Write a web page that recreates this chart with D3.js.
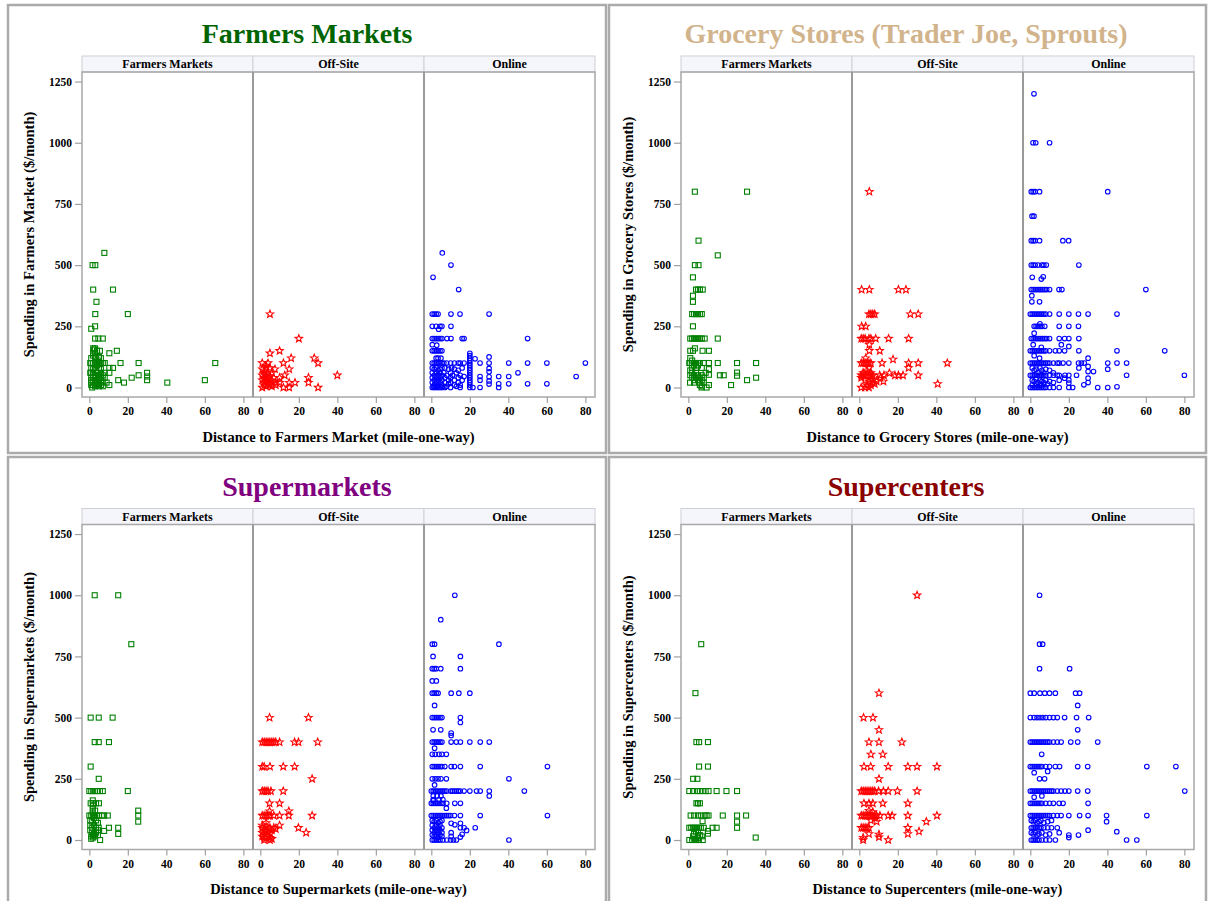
<!DOCTYPE html>
<html>
<head>
<meta charset="utf-8">
<script src="https://cdnjs.cloudflare.com/ajax/libs/d3/7.8.5/d3.min.js"></script>
<style>
  body { margin: 0; background: #fff; }
  svg { display: block; }
  text { font-family: "Liberation Serif", "Times New Roman", serif; font-weight: bold; }
</style>
</head>
<body>
<svg id="chart" width="1210" height="901"></svg>
<script>
// Facet columns shared by every panel (purchase channel)
const facets = ["Farmers Markets", "Off-Site", "Online"];
const xTicks = [0, 20, 40, 60, 80];
const yTicks = [0, 250, 500, 750, 1000, 1250];

const panelTitles = ["Farmers Markets", "Grocery Stores (Trader Joe, Sprouts)", "Supermarkets", "Supercenters"];
const titleColors = ["#006400", "#d2b48c", "#800080", "#8b0000"];
const yTitles = ["Spending in Farmers Market ($/month)", "Spending in Grocery Stores ($/month)",
                 "Spending in Supermarkets ($/month)", "Spending in Supercenters ($/month)"];
const xTitles = ["Distance to Farmers Market (mile-one-way)", "Distance to Grocery Stores (mile-one-way)",
                 "Distance to Supermarkets (mile-one-way)", "Distance to Supercenters (mile-one-way)"];

// [distance (miles), spending ($/month)]
// ---- Farmers Markets spending ----
const fmFarmers = [[7.8,550],[1.7,500],[3.1,500],[2,400],[12.3,400],[3.7,350],[3.1,300],[20,300],[1,240],[3,250],[3,200],[4.7,200],[7,200],
  [2,160],[3,160],[4,150],[5.5,150],[2.5,155],[10.4,140],[14.3,150],[16.2,100],[25.6,100],[65.4,100],[10.4,80],[12.3,80],[10.4,60],
  [30,60],[30,45],[30,30],[25.6,50],[22,40],[15,30],[18,20],[40.5,20],[60,30],[10.4,10],[1.5,0],
  [0.5,100],[1,100],[2,100],[3,100],[4,100],[5,100],[6,100],[7,100],[8,100],[1,120],[2,130],[3,125],[5,125],[6,120],[2,140],[3,140],
  [5,110],[1,80],[2,75],[3,80],[4,90],[5,80],[6,75],[0.5,60],[1,60],[2,60],[3,50],[4,60],[5,50],[6,60],[7,50],[1,40],[2,40],[3,40],
  [4,30],[5,35],[6,40],[8,40],[1,20],[2,25],[3,20],[4,20],[5,15],[6,20],[7,25],[1,10],[2,10],[3,5],[4,10],[5,5],[6,10],[7,5],[9,20],
  [8,60],[2,50],[1,30]];
const fmOffsite = [[5,300],[20,200],[5,140],[10,150],[16,120],[28,120],[30,100],[12,100],[1,75],[3,90],[7.6,75],[15,75],[40,50],[25,40],
  [25,20],[30,0],[18,20],[15,20],[12.7,50],[10,40],[12,0],[15,0],[1,0],[2,10],[3,5],[4,20],[5,15],[1,30],[2,40],[3,50],[4,60],[5,45],
  [6,30],[2,70],[3,80],[4,100],[1,100],[5,80],[6,60],[7,40],[8,20],[3,25],[2,20],[4,40],[5,10],[6,5],[3,35],[1,50],[2,55],[10,20],[8,10]];
const fmOnline = [[5.7,550],[10.2,500],[0.9,450],[14.2,400],[0.5,300],[1.5,300],[2.5,300],[3.5,300],[10.2,300],[14.9,300],[30,300],
  [0.5,250],[2.5,250],[4.5,250],[5.5,250],[10.2,250],[3.8,238],[0.5,200],[1.5,200],[2.5,200],[3.5,200],[4.5,200],[5.5,200],[8.1,200],
  [10.2,200],[16,200],[17,200],[50,200],[0.5,175],[2.8,173],[0.5,150],[1.5,150],[2.5,150],[3.5,150],[4.5,150],[5.5,150],
  [20,140],[20,130],[20,120],[20,110],[20,100],[20,90],[20,80],[20,70],[20,60],[20,50],[20,40],[20,30],[20,20],[20,10],[20,0],
  [2.5,120],[3.5,120],[5,120],[22.7,117],[30,125],[0.5,100],[1.5,100],[2.5,100],[3.5,100],[4.5,100],[5.5,100],[6.5,100],[8,100],
  [10,100],[12,100],[14,100],[15,100],[17,100],[25.3,100],[30,100],[40.2,100],[50,100],[60,100],[80,100],[30,78],[30,64],[30,44],
  [30,27],[30,14],[45,60],[35,45],[40.2,45],[75.2,45],[25.3,45],[25.3,30],[35,15],[40.2,15],[50,15],[60,15],[35,0],[25.3,0],[21.6,0],
  [0.5,80],[1.5,75],[2.5,80],[3.5,70],[4.5,75],[5.5,80],[7,80],[9,75],[10.5,80],[12,75],[14,70],[16,80],[0.5,60],[1.5,50],[2.5,60],
  [3.5,50],[4.5,60],[5.5,50],[6.5,60],[8,50],[10,60],[11,50],[13,60],[15,50],[17,45],[0.5,40],[1.5,30],[2.5,40],[3.5,30],[4.5,40],
  [5.5,30],[7,40],[9,30],[10,40],[12,30],[14,40],[16,30],[0.5,20],[1.5,10],[2.5,20],[3.5,10],[4.5,20],[5.5,10],[7,20],[9,15],[10,20],
  [12,10],[14,20],[15,10],[0.5,0],[1.5,0],[2.5,0],[3.5,0],[4.5,0],[5.5,0],[7,0],[10,0],[15,0],[1,5],[3,5],[6,5],[8,5],[13,5]];

// ---- Grocery Stores spending ----
const gsFarmers = [[3.4,800],[30.5,800],[5.3,600],[15.3,540],[3.4,500],[5.3,500],[2.4,450],[4,400],[5,400],[6,400],[7.5,400],[2.4,375],
  [2.4,350],[2,300],[3,300],[4,300],[5,300],[6,300],[7,300],[2.4,250],[1,200],[2,200],[3,200],[4,200],[5,200],[6,200],[7,200],[8.5,200],
  [15.3,200],[3.4,160],[1,150],[2.4,150],[7.4,150],[10.7,150],[0.5,100],[1,100],[2,100],[3,100],[4,100],[5,100],[6,100],[8,100],
  [10.7,100],[15.3,100],[25.3,100],[35.2,100],[10.7,75],[10.7,52],[25.3,61],[25.3,48],[16.4,50],[18.4,50],[35.2,40],[30.5,30],
  [22.2,10],[10.7,10],[6.9,0],[9.5,0],[0.9,20],[1,120],[2,110],[3,90],[4,80],[5,90],[1,70],[2,60],[3,50],[4,60],[5,50],[6,40],[7,50],
  [8,40],[1,50],[2,40],[3,30],[4,40],[5,30],[6,20],[7,30],[8,20],[3,20],[2,80],[7,80],[9,60],[6,10],[7,5]];
const gsOffsite = [[5.2,800],[1.2,400],[5.2,400],[20.3,400],[24.2,400],[5,300],[6,300],[7,300],[8,300],[26.5,300],[30.6,300],[1.2,250],
  [3.3,250],[1,200],[2,200],[3,200],[5,200],[6,200],[8.5,200],[15.2,200],[25.6,200],[5.2,175],[5.2,150],[10.6,150],[3.3,120],[17.5,115],
  [1,100],[2,100],[3,100],[4,100],[5,100],[6,100],[11.8,100],[25.6,100],[25.6,80],[30.6,100],[45.7,100],[1,50],[2,50],[3,50],[5,50],
  [6,50],[7,50],[10.6,50],[12.8,50],[15.6,59],[18.5,50],[20.3,50],[22.7,50],[30.6,50],[3,30],[5,25],[6,35],[7,20],[8,15],[9,25],[4,10],
  [6,10],[12.5,25],[1,0],[3,0],[5,0],[40.7,15],[2,60],[4,70],[5,80],[1,40],[6,60],[7,30],[11,40]];
const gsOnline = [[1.9,1200],[1.4,1000],[2.8,1000],[10,1000],[0.5,800],[1.5,800],[2.5,800],[4.8,800],[40.2,800],[0.9,700],[1.9,700],
  [0.5,600],[1.5,600],[2.5,600],[4.8,600],[16.9,600],[19.9,600],[0.5,500],[1.5,500],[2.5,500],[4,500],[6,500],[7,500],[8.3,500],
  [25.2,500],[1,450],[5.7,443],[6.7,452],[0.5,400],[1.5,400],[2.5,400],[3.5,400],[4.5,400],[5.5,400],[6.5,400],[7.5,400],[8.5,400],
  [10,400],[14.9,400],[16.4,400],[60,400],[0.8,375],[0.8,350],[4.8,350],
  [0,300],[1,300],[2,300],[3,300],[4,300],[5,300],[6,300],[7,300],[8,300],[10,300],[15,300],[20,300],[25,300],[30,300],[45,300],
  [2,250],[3,250],[4,250],[5,250],[6,250],[7.5,250],[15,250],[20,250],[25,250],[5,260],[2,222],
  [0.5,200],[1.5,200],[2.5,200],[3.5,200],[4.5,200],[5.5,200],[6.5,200],[7.5,200],[8.5,200],[10,200],[15,200],[17.8,200],[20,200],[25.2,200],
  [1.5,175],[16.1,175],[20,168],[5.7,164],
  [0,150],[1,150],[2,150],[3,150],[4,150],[5,150],[6,150],[7,150],[8,150],[10,150],[13,150],[15,150],[17.8,150],[25.2,150],[45,150],[69.8,150],
  [2,130],[4.8,120],[30,120],
  [0,100],[1,100],[2,100],[3,100],[4,100],[5,100],[6,100],[7,100],[8,100],[9,100],[10,100],[12,100],[14,100],[15,100],[17,100],[20,100],
  [25,100],[26.5,100],[28,100],[40.2,100],[45,100],[50,100],
  [25.2,80],[32.8,65],[40.2,75],[30,86],[30,65],[30,38],[30,20],
  [0,50],[1,50],[2,50],[3,50],[4,50],[5,50],[6,50],[7,50],[8,50],[10,50],[12,50],[14,50],[15,50],[18,50],[20,50],[24,50],[50,50],[80,50],
  [17.8,38],[20,31],[27.8,11],[20,18],
  [1,80],[2,70],[3,75],[4,60],[5,80],[6,70],[7,60],[8,75],[10,70],[12,60],[1,30],[2,25],[3,35],[4,20],[5,30],[6,25],[7,20],[8,30],[10,25],
  [12,20],[15,30],[1,10],[3,15],[5,10],[7,12],[9,15],
  [0,0],[1,0],[2,0],[3,0],[4,0],[5,0],[6,0],[7,0],[8,0],[10,0],[12,0],[15,0],[20,0],[22,0],[35,0],[40.2,0],[45,3]];

// ---- Supermarkets spending ----
const smFarmers = [[2.8,1000],[15,1000],[21.8,800],[0.7,500],[4.9,500],[12.1,500],[2.8,400],[4.9,400],[10.2,400],[0.7,300],[4.9,250],
  [20,200],[0,200],[1,200],[2,200],[3,200],[4,200],[5.5,200],[7,200],[0.7,150],[2,150],[3.5,150],[5,150],[25.4,120],[25.4,100],[25.4,75],
  [1.8,162],[1.8,128],[1.8,113],[0,100],[1,100],[2,100],[3,100],[4,100],[5,100],[6.5,100],[7.7,100],[9.6,100],[10.2,50],[15,50],[15,25],
  [7.7,37],[5.6,0],[0.5,80],[1.5,75],[2.5,90],[3.5,80],[4.5,70],[0.5,60],[1.5,50],[2.5,60],[3.5,50],[4.5,40],[0.5,40],[1.5,30],[2.5,25],
  [3.5,30],[4.5,20],[1,15],[2,10],[3,15],[1,5],[2,20],[1.8,140],[3,120],[4.9,50]];
const smOffsite = [[4.8,500],[25,500],[1,400],[2,400],[3,400],[4,400],[5,400],[6,400],[7,400],[8,400],[10,400],[17.8,400],[19.8,400],
  [29.8,400],[1,300],[2,300],[5,300],[11.9,300],[17.8,300],[26.9,250],[1,200],[2,200],[3,200],[4,200],[5.5,200],[11.9,200],[4.8,150],
  [10,150],[1,100],[2,100],[3,100],[4,100],[5,100],[7,100],[10,100],[14.8,100],[14.8,118],[26.9,100],[4.8,118],[10,60],[19.8,50],[23.8,30],
  [1,50],[2,40],[3,55],[4,45],[5,50],[6,40],[7,50],[8,45],[1,30],[2,25],[3,35],[4,30],[5,25],[1,15],[2,10],[3,10],[4,15],[5,10],[2,0],
  [5,0],[6,5],[1,60],[3,70]];
const smOnline = [[12.2,1000],[4.9,900],[0.5,800],[1.7,800],[35.1,800],[0.9,750],[15.1,750],[0.5,700],[1.5,700],[2.5,700],[4.9,700],
  [15.1,700],[0.5,650],[2.6,650],[0.5,600],[1.5,600],[2.5,600],[3.5,600],[10.3,600],[14.3,600],[20,600],[1.7,550],[0.5,500],[1.5,500],
  [2.5,500],[3.5,500],[4.5,500],[5.5,500],[15.1,500],[15.1,480],[0.9,450],[4.9,450],[10.3,437],[10.3,427],[0.5,400],[1.5,400],[2.5,400],
  [3.5,400],[4.5,400],[5.5,400],[10.3,400],[13,400],[15.1,400],[20,400],[25.4,400],[30.1,400],[1.7,375],[0.5,350],[2,350],[4,350],
  [5.5,350],[7.8,350],
  [0.5,300],[1.5,300],[2.5,300],[3.5,300],[4.5,300],[5.5,300],[7,300],[10.3,300],[12,300],[15.1,300],[25.4,300],[60.3,300],
  [0.5,250],[2,250],[3.5,250],[5,250],[7.8,250],[40.3,250],[1.7,225],
  [0,200],[1,200],[2,200],[3,200],[4,200],[5,200],[6,200],[7,200],[8,200],[10,200],[11,200],[12,200],[13,200],[14,200],[15,200],[17,200],
  [20,200],[23.5,200],[25.4,200],[30.1,200],[30.1,180],[48.3,200],[1,180],[3,180],[5,180],[1,165],[4,165],[6,165],
  [0,150],[1,150],[2,150],[3,150],[4,150],[5,150],[6,150],[8,150],[12.2,150],[15.1,150],[1,160],[7.8,130],
  [0,100],[1,100],[2,100],[3,100],[4,100],[5,100],[6,100],[7,100],[8,100],[9,100],[10,100],[12,100],[15.1,100],[25.4,100],[60.3,100],
  [0.5,80],[1.5,75],[2.5,80],[3.5,70],[4.5,75],[5.5,80],[0.5,60],[1.5,50],[2.5,60],[3.5,50],[4.5,60],[5.5,50],[0.5,40],[1.5,30],
  [2.5,40],[3.5,30],[4.5,40],[5.5,30],[0.5,20],[1.5,15],[2.5,20],[3.5,10],[4.5,20],[5.5,15],[10.3,68],[12.2,62],[15.1,68],[15.1,50],
  [17,50],[18.3,39],[22.8,50],[16,23],[15.1,12],[10.3,30],[10.3,15],
  [0.5,0],[1.5,0],[2.5,0],[3.5,0],[4.5,0],[6,0],[8,0],[10,0],[11.5,0],[13,0],[40.3,0]];

// ---- Supercenters spending ----
const scFarmers = [[6.7,800],[3.7,600],[4.2,400],[5.6,400],[10.2,400],[5.6,300],[10.2,300],[2.5,250],[4.7,250],[0.5,200],[2.5,200],
  [4.5,200],[6,200],[7.5,200],[9,200],[10.5,200],[14.7,200],[19.8,200],[25.3,200],[4.2,150],[5,150],[6,150],[1.2,100],[3,100],[5,100],
  [6.5,100],[8.5,100],[9.5,100],[10.5,100],[17.9,100],[25.3,100],[30,100],[7.4,77],[25.3,75],[0.5,50],[1.5,50],[2.5,50],[3.5,50],
  [4.5,50],[5.5,50],[6.5,50],[8,50],[12.6,50],[14.7,50],[25.3,50],[10.2,37],[10.2,26],[3,25],[4,35],[5,30],[6,20],[7,15],[2.5,15],
  [35,10],[0.5,0],[2,0],[4,0],[5.5,0],[7.5,0],[3.5,5],[5,8]];
const scOffsite = [[30,1000],[10.2,600],[2.2,500],[7.1,500],[10.2,450],[5,400],[10.2,400],[22.1,400],[6,350],[12.2,350],[2.4,300],
  [5.9,300],[15,300],[25.2,300],[30,300],[40.3,300],[10.2,250],[1,200],[2,200],[3,200],[4,200],[5,200],[6,200],[7,200],[8,200],[10,200],
  [12.5,200],[15,200],[19.8,200],[30,200],[2.4,150],[5,150],[7,150],[12.2,150],[25.2,150],[1,100],[2,100],[3,100],[4,100],[5,100],
  [6,100],[7,100],[8,100],[9,100],[10.7,100],[15,100],[17,100],[25.2,100],[40.3,100],[34.8,75],[5,120],[7,115],[8,90],[6,80],[9,75],
  [1,50],[2,50],[3,50],[4,50],[5,50],[25.2,50],[25.2,25],[31,35],[10.2,23],[10.2,12],[5,25],[2,10],[2,0],[15,0]];
const scOnline = [[4.8,1000],[4.8,800],[6.4,800],[4.8,700],[20.4,700],[0,600],[2,600],[5,600],[7.5,600],[10,600],[13,600],[23.5,600],
  [25.6,600],[24.6,550],[0,500],[2,500],[3.5,500],[5,500],[6.5,500],[8,500],[10,500],[12,500],[14,500],[17.8,500],[24,500],[30.3,500],
  [24.6,450],[0,400],[1,400],[2,400],[3,400],[4,400],[5,400],[6,400],[7,400],[8,400],[9,400],[10,400],[12,400],[14,400],[16,400],
  [21,400],[24.6,400],[35,400],[5.9,350],[0,300],[1,300],[2,300],[3,300],[4,300],[5,300],[6,300],[8,300],[10,300],[13,300],[15.2,300],
  [24.6,300],[29.8,300],[60.5,300],[75.6,300],[4.8,250],[7.4,250],[2,275],[9,280],
  [0,200],[1,200],[2,200],[3,200],[4,200],[5,200],[6,200],[7,200],[8,200],[9,200],[10,200],[11,200],[12,200],[14,200],[16,200],[18,200],
  [20,200],[24.6,200],[29.8,200],[80.2,200],
  [0,150],[1,150],[2,150],[3,150],[4,150],[5,150],[6,150],[8,150],[10,150],[12,150],[15,150],[17,150],[30,150],[2,175],[6,180],
  [0,100],[1,100],[2,100],[3,100],[4,100],[5,100],[6,100],[7,100],[8,100],[9,100],[10,100],[12,100],[14,100],[16,100],[20,100],
  [25.6,100],[30,100],[39.6,100],[60.5,100],[39.6,75],[44.9,34],[50,0],[55.3,0],[30,40],
  [0.5,80],[1.5,75],[2.5,80],[3.5,70],[4.5,75],[5.5,80],[7,70],[9,75],[11,80],[0.5,50],[1.5,50],[2.5,50],[3.5,50],[4.5,50],[5.5,50],
  [7,50],[9,50],[11,50],[14,50],[0.5,30],[1.5,25],[2.5,30],[3.5,20],[4.5,25],[6,30],[8,20],[10,25],[15,30],[20,20],
  [0.5,0],[1.5,0],[2.5,0],[3.5,0],[4.5,0],[6,0],[8,0],[10,0],[13,0],[20,10],[25,20]];

const panelData = [
  [fmFarmers, fmOffsite, fmOnline],
  [gsFarmers, gsOffsite, gsOnline],
  [smFarmers, smOffsite, smOnline],
  [scFarmers, scOffsite, scOnline]
];

// ---------- layout ----------
const svg = d3.select("#chart");
const serif = '"Liberation Serif", "Times New Roman", serif';
const offsets = [[0, 0], [599, 0], [0, 452.5], [599, 452.5]];
const plotLeft = 82, cellW = 171, plotTop = 72, plotBottom = 397, headTop = 56;

const y = d3.scaleLinear().domain([-38.8, 1289]).range([plotBottom, plotTop]);
const xFor = i => d3.scaleLinear().domain([-3.8, 85]).range([plotLeft + i * cellW, plotLeft + (i + 1) * cellW]);

// five-point star outline
function starPath(r1, r2) {
  const pts = [];
  for (let k = 0; k < 10; k++) {
    const r = k % 2 === 0 ? r1 : r2;
    const a = -Math.PI / 2 + k * Math.PI / 5;
    pts.push([r * Math.cos(a), r * Math.sin(a)]);
  }
  return "M" + pts.map(p => p[0].toFixed(2) + "," + p[1].toFixed(2)).join("L") + "Z";
}
const star = starPath(3.9, 1.7);

// outer panel frames
const frames = [[8, 5, 598, 448], [609, 5, 597, 448], [8, 457, 598, 448], [609, 457, 597, 448]];
svg.selectAll("rect.frame").data(frames).join("rect")
  .attr("class", "frame")
  .attr("x", d => d[0]).attr("y", d => d[1]).attr("width", d => d[2]).attr("height", d => d[3])
  .attr("fill", "none").attr("stroke", "#ababab").attr("stroke-width", 2.5);

function styleAxis(sel) {
  sel.attr("font-family", serif).attr("font-weight", "bold");
  sel.select(".domain").remove();
  sel.selectAll(".tick line").attr("stroke", "#a0a0a0").attr("stroke-width", 1.2);
  sel.selectAll(".tick text").attr("font-size", 11.5).attr("fill", "#000")
    .style("font-family", serif).style("font-weight", "bold");
}

panelData.forEach((series, p) => {
  const g = svg.append("g").attr("transform", `translate(${offsets[p][0]},${offsets[p][1]})`);

  // title
  g.append("text").attr("x", 307).attr("y", 43).attr("text-anchor", "middle")
    .attr("font-size", 28).attr("fill", titleColors[p]).text(panelTitles[p]);

  // facet headers
  facets.forEach((f, i) => {
    const x0 = plotLeft + i * cellW;
    g.append("rect").attr("x", x0).attr("y", headTop).attr("width", cellW).attr("height", plotTop - headTop)
      .attr("fill", "#f5f5fc").attr("stroke", "#cfcfd6").attr("stroke-width", 1);
    g.append("text").attr("x", x0 + cellW / 2).attr("y", 68).attr("text-anchor", "middle")
      .attr("font-size", 12).attr("fill", "#000").text(f);
  });

  // plot frame and column dividers
  g.append("rect").attr("x", plotLeft).attr("y", plotTop).attr("width", cellW * 3).attr("height", plotBottom - plotTop)
    .attr("fill", "none").attr("stroke", "#a8a8a8").attr("stroke-width", 1.5);
  [1, 2].forEach(i => {
    g.append("line").attr("x1", plotLeft + i * cellW).attr("x2", plotLeft + i * cellW)
      .attr("y1", plotTop).attr("y2", plotBottom).attr("stroke", "#9a9a9a").attr("stroke-width", 2);
  });

  // y axis
  g.append("g").attr("transform", `translate(${plotLeft},0)`)
    .call(d3.axisLeft(y).tickValues(yTicks).tickSize(7).tickPadding(3).tickFormat(d3.format("d")))
    .call(styleAxis);

  // x axes, one per facet
  facets.forEach((f, i) => {
    g.append("g").attr("transform", `translate(0,${plotBottom})`)
      .call(d3.axisBottom(xFor(i)).tickValues(xTicks).tickSize(6).tickPadding(4).tickFormat(d3.format("d")))
      .call(styleAxis);
  });

  // axis titles
  g.append("text").attr("x", 338.5).attr("y", 441.5).attr("text-anchor", "middle")
    .attr("font-size", 14.5).attr("fill", "#000").text(xTitles[p]);
  g.append("text").attr("transform", `translate(34,${(plotTop + plotBottom) / 2}) rotate(-90)`)
    .attr("text-anchor", "middle").attr("font-size", 14.5).attr("fill", "#000").text(yTitles[p]);

  // markers
  const xs0 = xFor(0), xs1 = xFor(1), xs2 = xFor(2);
  g.append("g").selectAll("rect").data(series[0]).join("rect")
    .attr("x", d => xs0(d[0]) - 2.5).attr("y", d => y(d[1]) - 2.5).attr("width", 5).attr("height", 5)
    .attr("fill", "none").attr("stroke", "#008000").attr("stroke-width", 1.1);
  g.append("g").selectAll("path").data(series[1]).join("path")
    .attr("d", star).attr("transform", d => `translate(${xs1(d[0])},${y(d[1])})`)
    .attr("fill", "none").attr("stroke", "#ff0000").attr("stroke-width", 1.1);
  g.append("g").selectAll("circle").data(series[2]).join("circle")
    .attr("cx", d => xs2(d[0])).attr("cy", d => y(d[1])).attr("r", 2.3)
    .attr("fill", "none").attr("stroke", "#0000ff").attr("stroke-width", 1.1);
});
</script>
</body>
</html>
